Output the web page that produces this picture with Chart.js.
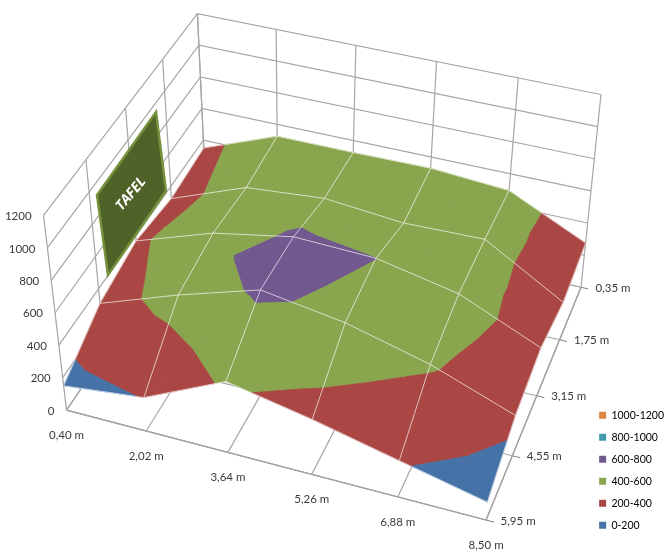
<!DOCTYPE html>
<html>
<head>
<meta charset="utf-8">
<title>Surface</title>
<script src="https://cdn.jsdelivr.net/npm/chart.js@4"></script>
<style>
  html, body { margin: 0; padding: 0; background: #fff; }
  canvas { display: block; }
</style>
</head>
<body>
<canvas id="chart" width="667" height="554"></canvas>
<script>
/* ===== Data ===== */
const xLabels = ['0,40 m', '2,02 m', '3,64 m', '5,26 m', '6,88 m', '8,50 m'];
const yLabels = ['0,35 m', '1,75 m', '3,15 m', '4,55 m', '5,95 m'];
const zTicks = [0, 200, 400, 600, 800, 1000, 1200];
const row035 = [350, 525, 525, 530, 495, 275];
const row175 = [325, 500, 540, 495, 505, 230];
const row315 = [370, 530, 620, 602, 500, 290];
const row455 = [310, 480, 630, 550, 420, 240];
const row595 = [150, 205, 430, 330, 215, 105];
const rows = [row035, row175, row315, row455, row595];
// the two cells where the peak bulges past the mean of its corners: [i, j, value]
const cellPeaks = [[1, 2, 606], [2, 2, 618]];
const bandLabels = ['0-200', '200-400', '400-600', '600-800', '800-1000', '1000-1200'];
const bandColors = ['#4572a7', '#aa4643', '#89a54e', '#71588f', '#4198af', '#db843d'];

/* ===== 3D view: box corners on screen (back-left, back-right, front-right, front-left) ===== */
const floorCorners = [[206, 203], [581, 287], [486, 520], [66, 410]];
const topCorners = [[197, 13], [601, 94], [500, 315], [43, 215]];
const zMax = 1200;

// unit square -> quad, projective
function quadMap(q) {
  const [[x0, y0], [x1, y1], [x2, y2], [x3, y3]] = q;
  const dx1 = x1 - x2, dx2 = x3 - x2, sx = x0 - x1 + x2 - x3;
  const dy1 = y1 - y2, dy2 = y3 - y2, sy = y0 - y1 + y2 - y3;
  const den = dx1 * dy2 - dx2 * dy1;
  const g = (sx * dy2 - dx2 * sy) / den, h = (dx1 * sy - sx * dy1) / den;
  const a = x1 - x0 + g * x1, b = x3 - x0 + h * x3;
  const d = y1 - y0 + g * y1, e = y3 - y0 + h * y3;
  return (u, v) => {
    const w = g * u + h * v + 1;
    return [(a * u + b * v + x0) / w, (d * u + e * v + y0) / w];
  };
}
const floorMap = quadMap(floorCorners), topMap = quadMap(topCorners);

// i, j are category indexes (may be fractional), z is the value
function project(i, j, z) {
  const u = i / (xLabels.length - 1), v = j / (yLabels.length - 1), t = z / zMax;
  const f = floorMap(u, v), c = topMap(u, v);
  return { x: f[0] + (c[0] - f[0]) * t, y: f[1] + (c[1] - f[1]) * t };
}

/* ===== Cut a polygon to one value band ===== */
function clipBelow(poly, limit, sign) {
  const out = [];
  poly.forEach((p, k) => {
    const q = poly[(k + 1) % poly.length];
    const a = sign * (limit - p[2]), b = sign * (limit - q[2]);
    if (a >= 0) out.push(p);
    if ((a >= 0) !== (b >= 0)) {
      const t = a / (a - b);
      out.push([p[0] + (q[0] - p[0]) * t, p[1] + (q[1] - p[1]) * t, p[2] + (q[2] - p[2]) * t]);
    }
  });
  return out;
}

function surfaceDatasets() {
  const sets = [];
  for (let j = 0; j < rows.length - 1; j++) {
    for (let i = 0; i < xLabels.length - 1; i++) {
      const a = [i, j, rows[j][i]], b = [i + 1, j, rows[j][i + 1]];
      const c = [i + 1, j + 1, rows[j + 1][i + 1]], d = [i, j + 1, rows[j + 1][i]];
      const peak = cellPeaks.find(p => p[0] === i && p[1] === j);
      const mid = [i + 0.5, j + 0.5, peak ? peak[2] : (a[2] + b[2] + c[2] + d[2]) / 4];
      [[a, b], [b, c], [c, d], [d, a]].forEach(([p, q]) => {
        bandColors.forEach((color, n) => {
          const lo = n * 200, hi = lo + 200;
          let poly = clipBelow([p, q, mid], hi, 1);
          if (poly.length) poly = clipBelow(poly, lo, -1);
          if (poly.length < 3) return;
          const pts = poly.map(v => project(v[0], v[1], v[2]));
          pts.push(pts[0]);
          sets.push({ data: pts, showLine: true, fill: 'shape', backgroundColor: color, borderColor: color, borderWidth: 0.8 });
        });
      });
    }
  }
  return sets;
}

function line(points, color, width) {
  return { data: points, showLine: true, fill: false, borderColor: color, borderWidth: width };
}

function meshDatasets() {
  const sets = [], white = 'rgba(255,255,255,0.65)';
  rows.forEach((r, j) => sets.push(line(r.map((z, i) => project(i, j, z)), white, 1)));
  xLabels.forEach((_, i) => sets.push(line(rows.map((r, j) => project(i, j, r[i])), white, 1)));
  return sets;
}

function gridDatasets() {
  const sets = [], gray = '#a6a6a6';
  const lastX = xLabels.length - 1, lastY = yLabels.length - 1;
  // back wall and left wall, horizontals
  zTicks.forEach(z => {
    sets.push(line([project(0, lastY, z), project(0, 0, z), project(lastX, 0, z)], gray, 1.2));
  });
  // wall verticals, floor lines
  xLabels.forEach((_, i) => {
    sets.push(line([project(i, 0, 0), project(i, 0, zMax)], gray, 1.2));
    sets.push(line([project(i, lastY, 0), project(i, 0, 0)], gray, 1.2));
  });
  yLabels.forEach((_, j) => {
    sets.push(line([project(0, j, 0), project(0, j, zMax)], gray, 1.2));
    sets.push(line([project(0, j, 0), project(lastX, j, 0)], gray, 1.2));
    // tick on the right edge
    sets.push(line([project(lastX, j, 0), project(lastX + 0.09, j, 0)], '#7f7f7f', 1));
  });
  sets.push(line([project(0, lastY, 0), project(lastX, lastY, 0), project(lastX, 0, 0)], '#8c8c8c', 1.2));
  return sets;
}

/* ===== Axis labels and the TAFEL sign, drawn in the same pixel space ===== */
const tafelCorners = [[156, 112], [166, 191], [108, 275], [97, 195]];
const labelPlugin = {
  id: 'boxLabels',
  beforeDraw(chart) {
    // filled shapes get clipped to the chart area, and the box runs past the legend edge
    chart.chartArea.right = chart.width;
    chart.chartArea.bottom = chart.height;
  },
  afterDatasetsDraw(chart) {
    const { ctx, scales } = chart;
    const px = p => ({ x: scales.x.getPixelForValue(p.x), y: scales.y.getPixelForValue(p.y) });
    ctx.save();
    ctx.fillStyle = '#3a3a3a';
    ctx.font = '11.5px Lato, "Open Sans", sans-serif';
    ctx.textBaseline = 'middle';
    ctx.textAlign = 'right';
    zTicks.forEach(z => {
      const p = px(project(0, yLabels.length - 1, z));
      ctx.fillText(String(z), p.x - 12, p.y + 1);
    });
    ctx.textAlign = 'center';
    xLabels.forEach((t, i) => {
      const p = px(project(i, yLabels.length - 1, 0));
      ctx.fillText(t, p.x, p.y + 25);
    });
    yLabels.forEach((t, j) => {
      const p = px(project(xLabels.length - 1, j, 0));
      ctx.fillText(t, p.x + 32, p.y + 1);
    });
    // sign
    ctx.beginPath();
    tafelCorners.forEach((c, k) => k ? ctx.lineTo(c[0], c[1]) : ctx.moveTo(c[0], c[1]));
    ctx.closePath();
    ctx.fillStyle = '#4f6228';
    ctx.fill();
    ctx.strokeStyle = '#76923c';
    ctx.lineWidth = 2.5;
    ctx.stroke();
    ctx.translate(131, 194);
    ctx.rotate(-50 * Math.PI / 180);
    ctx.fillStyle = '#fff';
    ctx.font = 'italic bold 14px "Open Sans", sans-serif';
    ctx.fillText('TAFEL', 0, 0);
    ctx.restore();
  }
};

/* ===== Chart ===== */
const datasets = [...meshDatasets(), ...surfaceDatasets(), ...gridDatasets()];
datasets.forEach(d => { d.pointRadius = 0; d.clip = false; d.tension = 0; });

const chart = new Chart(document.getElementById('chart'), {
  type: 'scatter',
  data: { datasets },
  options: {
    responsive: false,
    animation: false,
    events: [],
    layout: { padding: { bottom: 12, right: -7 } },
    scales: {
      x: { type: 'linear', display: false, min: 0, max: 667 },
      y: { type: 'linear', display: false, reverse: true, min: 0, max: 554 }
    },
    plugins: {
      tooltip: { enabled: false },
      legend: {
        position: 'right',
        align: 'end',
        labels: {
          boxWidth: 7,
          boxHeight: 7,
          padding: 11.5, // font size + padding must stay a whole number or the legend wraps
          color: '#3a3a3a',
          font: { family: 'Lato, "Open Sans", sans-serif', size: 10.5 },
          generateLabels: () => bandLabels.map((t, n) => ({
            text: t, fillStyle: bandColors[n], strokeStyle: bandColors[n], lineWidth: 0, index: n, hidden: false
          })).reverse()
        }
      }
    }
  },
  plugins: [labelPlugin]
});

// scales in canvas pixels: the plot starts at 0,0
chart.options.scales.x.max = chart.scales.x.right;
chart.options.scales.y.max = chart.scales.y.bottom;
chart.update('none');
</script>
</body>
</html>
